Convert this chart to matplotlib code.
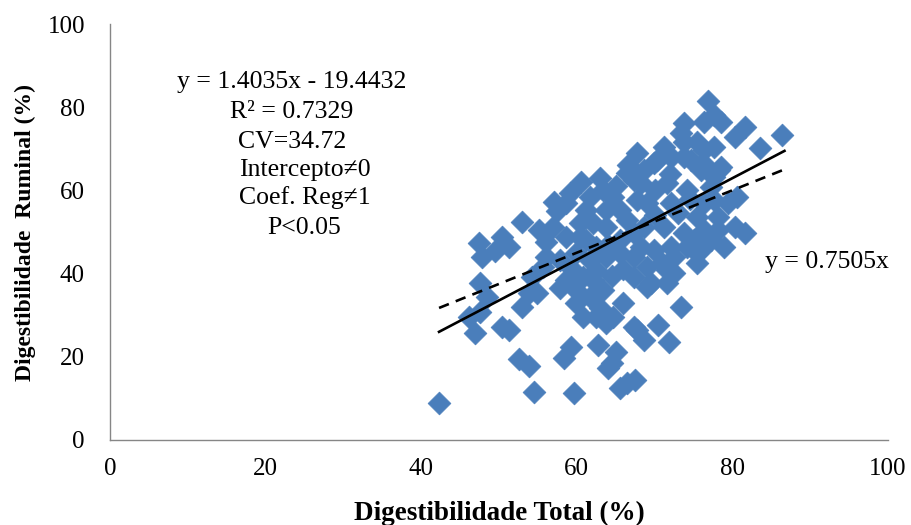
import matplotlib
matplotlib.use('Agg')
import matplotlib.pyplot as plt
import numpy as np

plt.rcParams['font.family'] = ['Liberation Serif', 'DejaVu Serif']

# digestibilidade total (x) e ruminal (y)
dig_total = [
    42.3, 46.2, 46.9, 47.5, 47.5, 48.5, 47.4, 47.8, 49.5, 50.4, 51.3, 50.4, 51.3, 52.6, 53.9,
    54.5, 53.0, 53.9, 53.0, 55.2, 56.0, 56.9, 54.3, 55.6, 54.9, 56.0, 57.8, 57.1, 58.6, 57.5,
    59.1, 60.5, 61.7, 63.4, 64.7, 66.4, 67.3, 60.4, 61.2, 58.6, 60.4, 62.1, 63.8, 65.6, 67.3,
    59.9, 61.7, 63.8, 65.6, 67.3, 58.6, 59.5, 60.8, 62.5, 62.1, 67.3, 57.9, 59.9, 63.4, 61.7,
    59.9, 60.8, 62.5, 63.0, 64.7, 66.0, 63.8, 67.3, 67.7, 68.6, 70.5, 71.8, 73.4, 69.0, 71.6,
    72.5, 70.9, 71.6, 72.5, 74.2, 75.5, 75.1, 76.4, 78.1, 81.6, 77.3, 78.9, 76.0, 69.9, 68.2,
    72.1, 75.5, 69.0, 73.8, 68.6, 71.2, 80.3, 75.5, 78.1, 69.0, 72.1, 76.4, 77.7, 79.4, 80.6,
    68.2, 71.6, 74.2, 77.3, 77.7, 76.0, 78.3, 78.6, 67.7, 69.9, 73.8, 76.2, 66.6, 68.6, 70.3,
    72.1, 74.7, 76.4, 77.7, 71.2, 73.8, 75.5, 73.4, 73.8, 76.4, 78.6, 77.7, 76.9, 81.6, 80.3,
    83.5, 86.4, 59.7, 58.4, 59.2, 62.7, 64.0, 65.0, 64.5, 66.4, 65.5, 67.5, 61.2, 63.8, 65.6,
    67.7, 66.5, 64.0, 62.5, 66.0, 64.5, 69.5, 70.0, 73.0, 74.5, 72.0, 70.0, 65.0, 63.0,
]
dig_ruminal = [
    9.0, 29.6, 25.7, 30.8, 37.7, 34.4, 47.4, 44.0, 45.5, 48.8, 46.4, 27.2, 26.4, 19.5, 17.8,
    11.5, 32.0, 35.3, 52.4, 50.5, 47.6, 51.2, 39.2, 41.6, 35.3, 44.0, 43.3, 57.2, 57.0, 55.0,
    59.4, 62.0, 58.4, 60.1, 58.4, 64.2, 62.5, 52.2, 48.1, 48.8, 48.8, 52.2, 51.2, 48.1, 49.8,
    45.0, 43.3, 44.0, 45.0, 44.0, 38.5, 40.9, 39.2, 40.9, 38.5, 39.2, 36.5, 36.1, 36.1, 34.4,
    32.9, 29.6, 29.6, 31.7, 29.6, 32.9, 28.1, 27.2, 26.4, 24.0, 27.6, 23.6, 32.0, 36.8, 37.7,
    40.1, 42.5, 40.9, 44.0, 46.4, 45.0, 48.1, 50.5, 50.5, 49.8, 48.1, 46.4, 45.7, 45.7, 46.4,
    46.4, 42.5, 41.6, 49.8, 51.2, 51.2, 51.2, 53.6, 53.6, 57.0, 57.0, 57.0, 57.7, 57.0, 58.4,
    61.8, 61.8, 60.1, 60.8, 63.2, 64.9, 64.9, 65.6, 69.0, 66.6, 68.0, 66.6, 66.1, 64.9, 67.3,
    68.0, 67.3, 69.7, 70.4, 70.4, 71.6, 71.6, 73.8, 76.2, 76.4, 76.4, 78.1, 81.5, 75.2, 72.8,
    70.2, 73.3, 11.3, 19.7, 22.4, 22.8, 17.3, 21.2, 18.5, 13.7, 12.5, 14.4, 55.3, 55.3, 55.3,
    57.7, 53.0, 47.0, 46.5, 41.0, 39.5, 37.7, 54.0, 54.5, 58.0, 64.0, 60.0, 61.0, 63.0,
]

# linhas de tendencia
line_x = [42.3, 86.7]
fit_slope, fit_intercept = 0.98, -15.45
origin_slope = 0.7505

eq_lines = ['y = 1.4035x - 19.4432', 'R\u00b2 = 0.7329', 'CV=34.72']
test_lines = ['Intercepto\u22600', 'Coef. Reg\u22601', 'P<0.05']

fig = plt.figure(figsize=(9.11, 5.25), dpi=100)
ax = fig.add_axes([0.1207, 0.162, 0.854, 0.792])

ax.scatter(dig_total, dig_ruminal, marker='D', s=135, color='#4a7ebb',
           edgecolors='#4a7ebb', linewidths=0.5, zorder=2)

lx = np.array(line_x)
ax.plot(lx, fit_slope * lx + fit_intercept, color='black', lw=1.9, zorder=3)
ax.plot(lx, origin_slope * lx, color='black', lw=1.9, ls=(0, (4, 2.8)), zorder=3)

ax.set_xlim(0, 100)
ax.set_ylim(0, 100)
ax.set_xticks(range(0, 101, 20))
ax.set_yticks(range(0, 101, 20))
ax.tick_params(length=0, labelsize=18)
ax.tick_params(axis='x', pad=13)
ax.tick_params(axis='y', pad=18)

for side in ['top', 'right']:
    ax.spines[side].set_visible(False)
for side in ['left', 'bottom']:
    ax.spines[side].set_color('#868686')
    ax.spines[side].set_linewidth(1)

ax.set_xlabel('Digestibilidade Total (%)', fontsize=19.5, fontweight='bold', labelpad=15)
ax.set_ylabel('Digestibilidade  Ruminal (%)', fontsize=17, fontweight='bold', labelpad=8)

ys = [0.861, 0.788, 0.716]
for t, yy in zip(eq_lines, ys):
    ax.text(0.234, yy, t, transform=ax.transAxes, ha='center', va='center', fontsize=18.5)
ys2 = [0.649, 0.584, 0.510]
for t, yy in zip(test_lines, ys2):
    ax.text(0.25, yy, t, transform=ax.transAxes, ha='center', va='center', fontsize=18.5)

ax.text(0.921, 0.428, 'y = 0.7505x', transform=ax.transAxes, ha='center', va='center',
        fontsize=18.5)

fig.savefig('out.png', dpi=100)
